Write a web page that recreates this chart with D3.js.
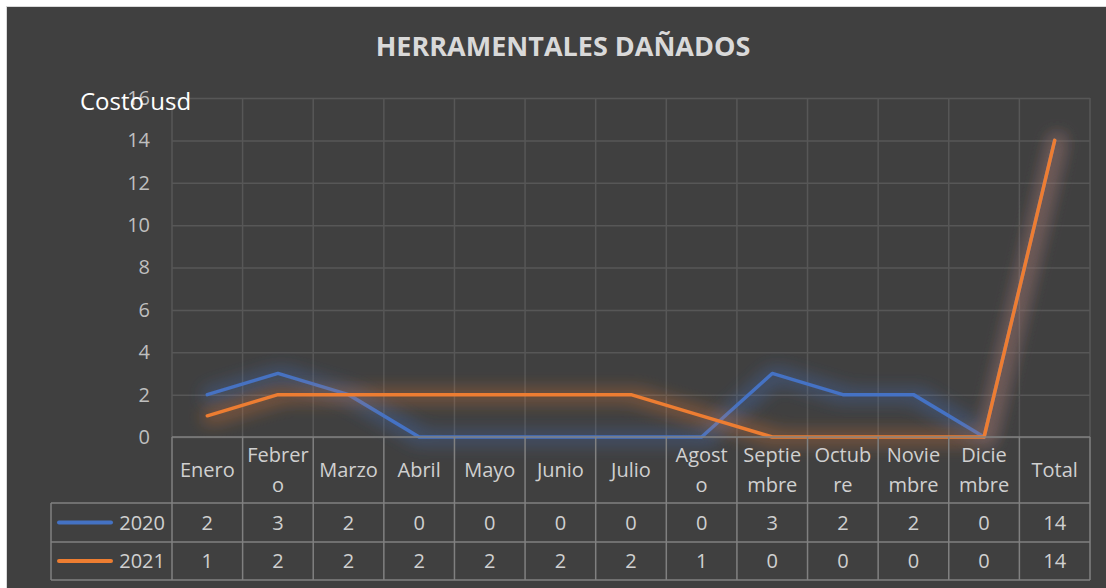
<!DOCTYPE html>
<html lang="es">
<head>
<meta charset="UTF-8">
<title>Herramentales dañados</title>
<script src="https://cdnjs.cloudflare.com/ajax/libs/d3/7.8.5/d3.min.js"></script>
<style>
  body { margin: 0; background: #ffffff; }
  svg { display: block; font-family: "Open Sans", sans-serif; }
</style>
</head>
<body>
<div id="chart"></div>
<script>
// chart values
var categories = ["Enero", "Febrero", "Marzo", "Abril", "Mayo", "Junio", "Julio",
  "Agosto", "Septiembre", "Octubre", "Noviembre", "Diciembre", "Total"];
// header labels as wrapped in the data table
var headerLines = [["Enero"], ["Febrer", "o"], ["Marzo"], ["Abril"], ["Mayo"], ["Junio"], ["Julio"],
  ["Agost", "o"], ["Septie", "mbre"], ["Octub", "re"], ["Novie", "mbre"], ["Dicie", "mbre"], ["Total"]];
var seriesNames = ["2020", "2021"];
var values2020 = [2, 3, 2, 0, 0, 0, 0, 0, 3, 2, 2, 0, 14];
var values2021 = [1, 2, 2, 2, 2, 2, 2, 1, 0, 0, 0, 0, 14];
var yTicks = [0, 2, 4, 6, 8, 10, 12, 14, 16];

var colors = ["#4472C4", "#ED7D31"];
var allSeries = [values2020, values2021];

var svgWidth = 1106, svgHeight = 588;
var plot = { left: 172, right: 1090, top: 98, bottom: 437 };
var tableLeft = 51;
var headerBottom = 503;
var rowBottoms = [542, 580];

var svg = d3.select("#chart").append("svg")
  .attr("width", svgWidth)
  .attr("height", svgHeight);

// soft glow behind the lines
var defs = svg.append("defs");
colors.forEach(function(c, i) {
  var f = defs.append("filter").attr("id", "glow" + i)
    .attr("filterUnits", "userSpaceOnUse")
    .attr("x", 0).attr("y", 0).attr("width", svgWidth).attr("height", svgHeight);
  f.append("feMorphology").attr("in", "SourceGraphic").attr("operator", "dilate").attr("radius", 6).attr("result", "fat");
  f.append("feGaussianBlur").attr("in", "fat").attr("stdDeviation", 8).attr("result", "blur");
  f.append("feOffset").attr("in", "blur").attr("dx", 3).attr("dy", 1).attr("result", "moved");
  f.append("feComponentTransfer").attr("in", "moved").attr("result", "soft")
    .append("feFuncA").attr("type", "linear").attr("slope", 0.32);
  var m = f.append("feMerge");
  m.append("feMergeNode").attr("in", "soft");
  m.append("feMergeNode").attr("in", "SourceGraphic");
});

// chart background
svg.append("rect")
  .attr("x", 6.5).attr("y", 6.5)
  .attr("width", svgWidth - 6).attr("height", svgHeight - 6)
  .attr("fill", "#404040")
  .attr("stroke", "#d9d9d9").attr("stroke-width", 1);

var x = d3.scaleBand().domain(categories).range([plot.left, plot.right]).padding(0);
var y = d3.scaleLinear().domain([0, 16]).range([plot.bottom, plot.top]);

// horizontal gridlines + y labels
var yAxis = svg.append("g")
  .attr("transform", "translate(" + plot.left + ",0)")
  .call(d3.axisLeft(y).tickValues(yTicks).tickSize(-(plot.right - plot.left)).tickPadding(22));
yAxis.select(".domain").remove();
yAxis.selectAll(".tick line").attr("stroke", "#575757").attr("stroke-width", 1.5);
yAxis.selectAll(".tick text")
  .attr("fill", "#bfbfbf")
  .style("font-size", "20px")
  .style("font-family", "Open Sans, sans-serif");

// vertical gridlines at category borders
var borders = categories.map(function(c) { return x(c); }).concat([plot.right]);
svg.append("g").selectAll("line")
  .data(borders)
  .enter()
  .append("line")
  .attr("x1", function(d) { return d; })
  .attr("x2", function(d) { return d; })
  .attr("y1", plot.top)
  .attr("y2", plot.bottom)
  .attr("stroke", "#575757")
  .attr("stroke-width", 1.5);

// series lines
var line = d3.line()
  .x(function(d, i) { return x(categories[i]) + x.bandwidth() / 2; })
  .y(function(d) { return y(d); });

allSeries.forEach(function(vals, i) {
  svg.append("path")
    .datum(vals)
    .attr("d", line)
    .attr("fill", "none")
    .attr("stroke", colors[i])
    .attr("stroke-width", 3.5)
    .attr("stroke-linecap", "round")
    .attr("stroke-linejoin", "round")
    .attr("filter", "url(#glow" + i + ")");
});

// data table
var table = svg.append("g");
var gridStroke = "#808080";

table.append("line")
  .attr("x1", plot.left).attr("x2", plot.right)
  .attr("y1", plot.bottom).attr("y2", plot.bottom)
  .attr("stroke", gridStroke).attr("stroke-width", 1.5);
[headerBottom].concat(rowBottoms).forEach(function(yy) {
  table.append("line")
    .attr("x1", tableLeft).attr("x2", plot.right)
    .attr("y1", yy).attr("y2", yy)
    .attr("stroke", gridStroke).attr("stroke-width", 1.5);
});
borders.forEach(function(bx) {
  table.append("line")
    .attr("x1", bx).attr("x2", bx)
    .attr("y1", plot.bottom).attr("y2", rowBottoms[1])
    .attr("stroke", gridStroke).attr("stroke-width", 1.5);
});
table.append("line")
  .attr("x1", tableLeft).attr("x2", tableLeft)
  .attr("y1", headerBottom).attr("y2", rowBottoms[1])
  .attr("stroke", gridStroke).attr("stroke-width", 1.5);

var textColor = "#d0d0d0";

// header labels
headerLines.forEach(function(lines, i) {
  var cx = x(categories[i]) + x.bandwidth() / 2;
  var mid = (plot.bottom + headerBottom) / 2;
  var t = table.append("text")
    .attr("text-anchor", "middle")
    .attr("fill", textColor)
    .style("font-size", "20px");
  lines.forEach(function(l, j) {
    t.append("tspan")
      .attr("x", cx)
      .attr("y", mid + (j - (lines.length - 1) / 2) * 30)
      .attr("dy", "0.35em")
      .text(l);
  });
});

// series rows
allSeries.forEach(function(vals, i) {
  var top = i === 0 ? headerBottom : rowBottoms[0];
  var cy = (top + rowBottoms[i]) / 2;
  table.append("line")
    .attr("x1", 59).attr("x2", 111)
    .attr("y1", cy).attr("y2", cy)
    .attr("stroke", colors[i])
    .attr("stroke-width", 4)
    .attr("stroke-linecap", "round");
  table.append("text")
    .attr("x", 165).attr("y", cy).attr("dy", "0.35em")
    .attr("text-anchor", "end")
    .attr("fill", textColor)
    .style("font-size", "20px")
    .text(seriesNames[i]);
  table.selectAll(null)
    .data(vals)
    .enter()
    .append("text")
    .attr("x", function(d, k) { return x(categories[k]) + x.bandwidth() / 2; })
    .attr("y", cy).attr("dy", "0.35em")
    .attr("text-anchor", "middle")
    .attr("fill", textColor)
    .style("font-size", "20px")
    .text(function(d) { return d; });
});

// title
svg.append("text")
  .attr("x", 563).attr("y", 56)
  .attr("text-anchor", "middle")
  .attr("fill", "#d9d9d9")
  .style("font-size", "27px")
  .style("font-weight", "bold")
  .text("HERRAMENTALES DAÑADOS");

// axis title
svg.append("text")
  .attr("x", 80).attr("y", 110)
  .attr("fill", "#ffffff")
  .style("font-size", "24px")
  .text("Costo usd");
</script>
</body>
</html>
